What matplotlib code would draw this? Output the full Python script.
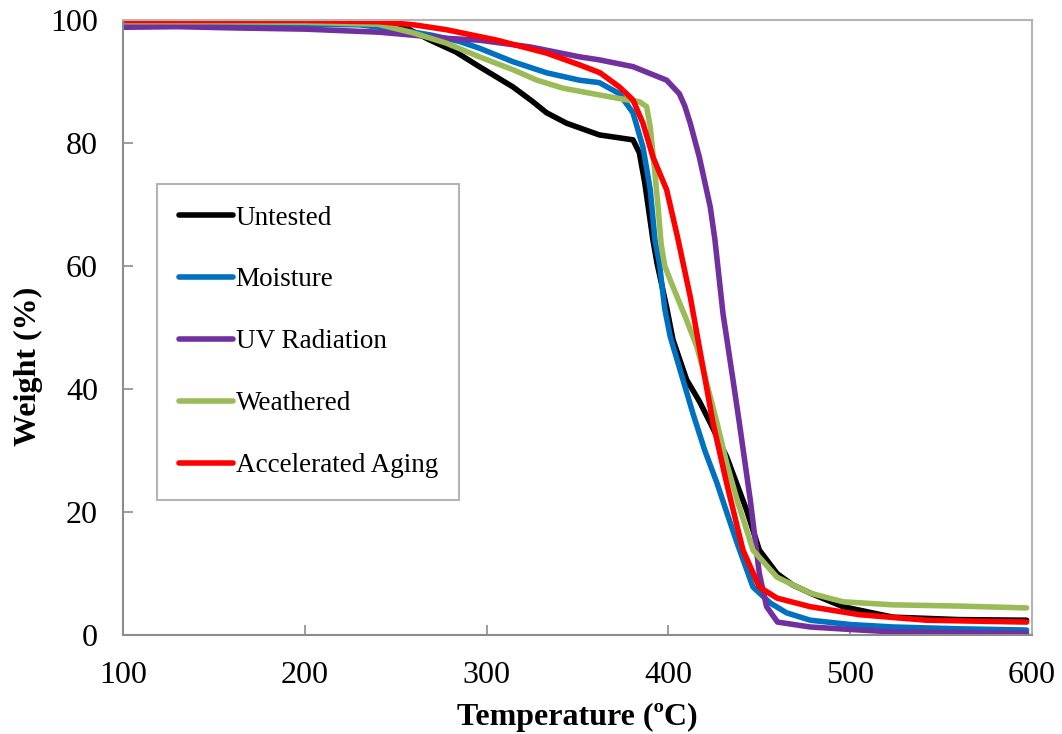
"""
    TGA curves: weight loss vs temperature for the aged samples
"""

import numpy as np
import matplotlib
matplotlib.use('Agg')
import matplotlib.pyplot as plt

plt.rcParams['font.family'] = ['Liberation Serif', 'DejaVu Serif']

# values
t_untested = [100, 150, 200, 240, 255, 269, 283, 296, 305, 314.5, 325, 333, 344, 362, 380.5, 384, 387, 391.5,
              393.7, 399, 402.5, 410, 417, 423, 432, 443, 450, 459.7, 468, 478, 496, 523.5, 560, 597]
w_untested = [99.6, 99.6, 99.5, 99.3, 98.8, 96.7, 94.8, 92.4, 90.8, 89.1, 86.8, 84.9, 83.2, 81.3, 80.5, 78.4, 73.5, 64.2,
              60.5, 53.3, 48, 41.5, 38, 34.5, 29, 20.3, 13.8, 10, 8.2, 6.8, 4.6, 2.9, 2.5, 2.4]

t_moisture = [100, 150, 200, 230, 250, 270, 285, 296, 314.5, 333, 351, 362, 373, 380.5, 386, 390, 392.6, 395,
              398, 401, 408, 413.5, 420, 426.7, 432, 437.7, 446.5, 456, 465, 478, 500, 523.5, 560, 597]
w_moisture = [99.4, 99.4, 99.3, 99.2, 98.5, 97.5, 96.5, 95.4, 93.2, 91.4, 90.2, 89.8, 88, 84.9, 79.3, 72.4, 64.2, 60.5,
              53, 48.5, 41.5, 36, 30, 24.7, 20, 15, 7.8, 5.2, 3.6, 2.4, 1.7, 1.3, 1.0, 0.8]

t_uv = [100, 130, 160, 200, 241, 260, 278, 296, 324, 351, 362, 380.5, 399, 406, 409, 412, 417, 423, 425.6,
        430, 435.5, 439, 445, 450, 454, 460, 478, 500, 523.5, 560, 597]
w_uv = [98.8, 98.9, 98.7, 98.5, 98, 97.5, 97, 96.7, 95.6, 94, 93.5, 92.4, 90.2, 88, 86, 83.2, 77.7, 69.6, 64.2,
        52.3, 41.5, 34.5, 22, 10, 4.6, 2.1, 1.3, 0.9, 0.5, 0.4, 0.3]

t_weathered = [100, 150, 200, 240, 259.5, 278, 296, 314.5, 327.7, 342, 362, 377, 384, 388, 390, 392.6, 394.3, 396,
               398, 401, 410, 415.7, 421, 426.7, 432, 437.7, 446.5, 459.7, 478, 496, 523.5, 560, 597]
w_weathered = [99.7, 99.7, 99.6, 99.3, 97.9, 96.2, 94, 91.9, 90.2, 88.9, 87.8, 87, 86.7, 85.9, 82.6, 75, 69.6, 63.5,
               60, 57.7, 51.2, 46.8, 41, 34.5, 28, 22, 13.8, 9.4, 6.8, 5.4, 4.9, 4.7, 4.4]

t_aging = [100, 150, 200, 241, 260, 278, 305.7, 333, 351, 362.4, 373, 380.5, 386, 391.5, 399, 405, 412, 417,
           424.5, 432, 441, 450, 459.7, 478, 505, 542, 597]
w_aging = [99.9, 99.9, 99.9, 99.7, 99.2, 98.4, 96.7, 94.6, 92.7, 91.4, 89.1, 87, 83.2, 77.7, 72.4, 64.7, 55, 46.8,
           34.5, 24.7, 13.8, 7.8, 6, 4.6, 3.3, 2.4, 2.1]

series = [
    ('Untested', t_untested, w_untested, 'black'),
    ('Moisture', t_moisture, w_moisture, '#0070C0'),
    ('UV Radiation', t_uv, w_uv, '#7030A0'),
    ('Weathered', t_weathered, w_weathered, '#9BBB59'),
    ('Accelerated Aging', t_aging, w_aging, '#FF0000'),
]

fig = plt.figure(figsize=(10.62, 7.34), dpi=100)
ax = fig.add_axes([0.1158, 0.1349, 0.856, 0.838])

for name, t, w, c in series:
    ax.plot(t, w, color=c, lw=4.0, label=name, solid_joinstyle='round', solid_capstyle='round')

ax.set_xlim(100, 600)
ax.set_ylim(0, 100)
ax.set_xticks(np.arange(100, 601, 100))
ax.set_yticks(np.arange(0, 101, 20))
ax.tick_params(direction='in', length=7, width=1.2, color='#8c8c8c', labelsize=23)
ax.tick_params(axis='x', pad=19)
ax.tick_params(axis='y', pad=18)
for s in ax.spines.values():
    s.set_color('#8c8c8c')
    s.set_linewidth(1.5)
ax.spines['top'].set_color('#b4b4b4')
ax.spines['right'].set_color('#b4b4b4')

ax.set_xlabel('Temperature (ºC)', fontsize=23, fontweight='bold', labelpad=9)
ax.set_ylabel('Weight (%)', fontsize=23, fontweight='bold')
ax.yaxis.set_label_coords(-0.088, 0.436)

leg = ax.legend(loc='upper left', bbox_to_anchor=(157 / 1062, 1 - 184 / 734), bbox_transform=fig.transFigure,
                fontsize=19.5, frameon=True, fancybox=False, edgecolor='#b4b4b4', framealpha=1,
                labelspacing=1.36, handlelength=2.0, handletextpad=0.1, borderpad=0.8, borderaxespad=0)
leg.get_frame().set_linewidth(1.5)

plt.savefig('out.png', dpi=100)
